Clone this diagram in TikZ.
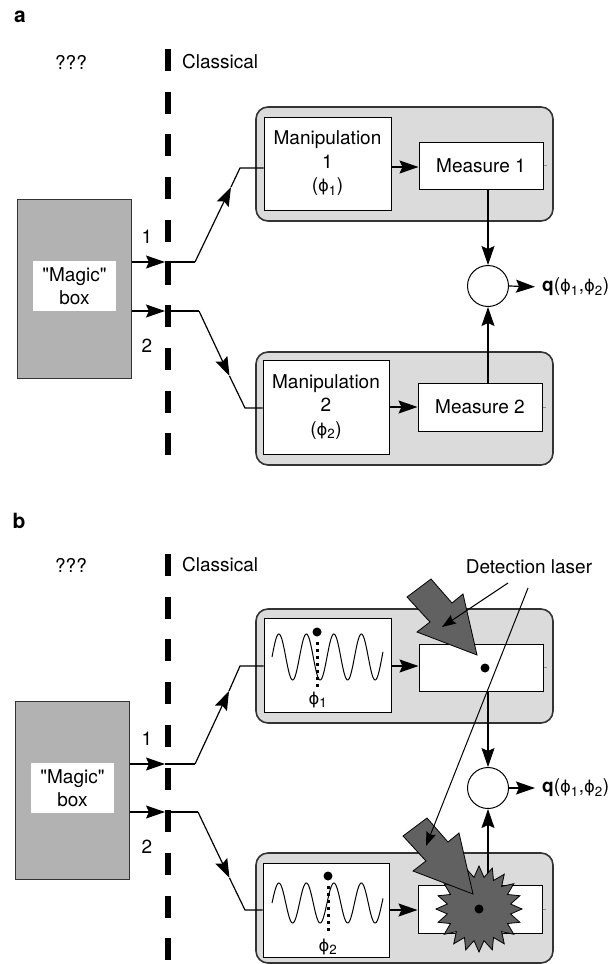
\documentclass[tikz,border=0pt]{standalone}
\usepackage{fontspec}
\newfontfamily\heros{TeX Gyre Heros}
\newfontfamily\phifont{DejaVu Sans}[Scale=0.86]
\newcommand\myphi{{\phifont ϕ}}
\usetikzlibrary{arrows.meta}
\begin{document}
\begin{tikzpicture}[x=1pt,y=-1pt,
  every node/.style={font=\heros\fontsize{19}{23.5}\selectfont, inner sep=0pt},
  conn/.style={line width=1.2pt, draw=black},
  arr/.style={-{Stealth[length=19pt,width=13pt,inset=3pt]}},
  sarr/.style={-{Stealth[length=14pt,width=10pt,inset=2pt]}},
  unitbox/.style={draw=black!80, line width=1.6pt, fill=black!14, rounded corners=12pt},
  wbox/.style={draw=black, line width=1pt, fill=white, align=center},
  magicbox/.style={draw=black!80, line width=1pt, fill=black!30},
  magiclabel/.style={fill=white, align=center, minimum width=83pt, minimum height=50pt},
  divider/.style={line width=6.7pt, dash pattern=on 22pt off 20.7pt},
  beam/.style={draw=black, line width=0.8pt, fill=black!62, line join=miter},
  dotline/.style={line width=3pt, dash pattern=on 3pt off 4pt},
  wave/.style={line width=1pt},
  stub/.style={line width=0.8pt, draw=black!45},
  thinarrow/.style={line width=1pt, draw=black},
  panel/.style={font=\heros\fontsize{21}{24}\selectfont\bfseries},
  summer/.style={circle, draw=black, line width=1pt, fill=white, minimum size=41pt}
]
\useasboundingbox (0,0) rectangle (613,964);

% ================= Panel a =================
\node[panel] (laba) at (20,17) {a};
\node (qqa) at (71,62) {???};
\node[anchor=west] (cla) at (182,62) {Classical};
\draw[divider] (168,49) -- (168,456);

\node[unitbox, minimum width=297pt, minimum height=114pt] (ua1) at (404.5,164) {};
\node[unitbox, minimum width=297pt, minimum height=113pt] (ua2) at (404.5,408.5) {};
\node[wbox, minimum width=127pt, minimum height=93pt] (mana1) at (327.5,163.5) {Manipulation\\1\\(\myphi\textsubscript{1})};
\node[wbox, minimum width=124pt, minimum height=47pt] (mesa1) at (481,165.5) {Measure 1};
\node[wbox, minimum width=126pt, minimum height=94pt] (mana2) at (326,407) {Manipulation\\2\\(\myphi\textsubscript{2})};
\node[wbox, minimum width=124pt, minimum height=48pt] (mesa2) at (480,407) {Measure 2};
\draw[stub] (mesa1.east) -- ++(3,0);
\draw[stub] (mesa2.east) -- ++(3,0);
\node[summer] (ca) at (488,286) {};
\node[anchor=west] (qa) at (542,287) {\textbf{q}(\myphi\textsubscript{1},\myphi\textsubscript{2})};

\node[magicbox, minimum width=114pt, minimum height=179pt] (mba) at (74,288.5) {};
\node[magiclabel] (mla) at (74.5,286) {"Magic"\\box};
\node (n1a) at (147,237) {1};
\node (n2a) at (147,346) {2};

\coordinate (a1x) at (165,262);
\coordinate (a1b) at (195,262);
\coordinate (a1m) at (231,187);
\coordinate (a1c) at (240,168);
\coordinate (a2x) at (165,311);
\coordinate (a2b) at (199,311);
\coordinate (a2m) at (229.5,376);
\coordinate (a2c) at (245,408);

\draw[conn,arr] (mba.east |- a1x) -- (a1x);
\draw[conn] (a1x) -- (a1b);
\draw[conn,arr] (a1b) -- (a1m);
\draw[conn] (a1m) -- (a1c) -- (mana1.west |- a1c);
\draw[conn,arr] (mba.east |- a2x) -- (a2x);
\draw[conn] (a2x) -- (a2b);
\draw[conn,arr] (a2b) -- (a2m);
\draw[conn] (a2m) -- (a2c) -- (mana2.west |- a2c);

\draw[conn,arr] (mana1.east |- 0,167) -- (mesa1.west |- 0,167);
\draw[conn,arr] (mana2.east |- 0,407) -- (mesa2.west |- 0,407);
\draw[conn,arr] (ca |- mesa1.south) -- (ca.north);
\draw[conn,arr] (ca |- mesa2.north) -- (ca.south);
\draw[conn,arr,shorten >=7pt] (ca.east) -- (qa.west);

% ================= Panel b =================
\node[panel] (labb) at (19,521) {b};
\node (qqb) at (71,565) {???};
\node[anchor=west] (clb) at (182,565) {Classical};
\draw[divider] (168,554) -- (168,960);

\node[unitbox, minimum width=297pt, minimum height=114pt] (ub1) at (404.5,666) {};
\node[unitbox, minimum width=297pt, minimum height=110pt] (ub2) at (404.5,908) {};
\node[wbox, minimum width=127pt, minimum height=94pt] (manb1) at (327.5,665) {};
\node[wbox, minimum width=124pt, minimum height=47pt] (mesb1) at (481,667.5) {};
\node[wbox, minimum width=126pt, minimum height=94pt] (manb2) at (326,910) {};
\node[wbox, minimum width=124pt, minimum height=48pt] (mesb2) at (480,909) {};
\draw[stub] (mesb1.east) -- ++(3,0);
\draw[stub] (mesb2.east) -- ++(3,0);
\node[summer] (cb) at (488,788) {};
\node[anchor=west] (qb) at (542,788) {\textbf{q}(\myphi\textsubscript{1},\myphi\textsubscript{2})};

% waves
\draw[wave] plot[domain=0:111, samples=150, smooth, variable=\t] ({272+\t},{657-23*sin(\t*13.0909)});
\fill (317,632) circle[radius=4.5pt];
\draw[dotline] (317,642) -- (317,689);
\node (phb1) at (318,700) {\myphi\textsubscript{1}};
\draw[wave] plot[domain=0:111, samples=150, smooth, variable=\t] ({272+\t},{903-20*sin(\t*13.0909)});
\fill (328,876) circle[radius=4.5pt];
\draw[dotline] (328,886) -- (328,931);
\node (phb2) at (328,947) {\myphi\textsubscript{2}};
\fill (485,668) circle[radius=4.5pt];

\node[magicbox, minimum width=114pt, minimum height=178pt] (mbb) at (72,790) {};
\node[magiclabel] (mlb) at (72.5,788) {"Magic"\\box};
\node (n1b) at (147,739) {1};
\node (n2b) at (147,847) {2};

\coordinate (b1x) at (165,764);
\coordinate (b1b) at (195,764);
\coordinate (b1m) at (229,691);
\coordinate (b1c) at (240,666);
\coordinate (b2x) at (165,812);
\coordinate (b2b) at (198,812);
\coordinate (b2m) at (229.5,878);
\coordinate (b2c) at (245,910);

\draw[conn,arr] (mbb.east |- b1x) -- (b1x);
\draw[conn] (b1x) -- (b1b);
\draw[conn,arr] (b1b) -- (b1m);
\draw[conn] (b1m) -- (b1c) -- (manb1.west |- b1c);
\draw[conn,arr] (mbb.east |- b2x) -- (b2x);
\draw[conn] (b2x) -- (b2b);
\draw[conn,arr] (b2b) -- (b2m);
\draw[conn] (b2m) -- (b2c) -- (manb2.west |- b2c);

\draw[conn,arr] (manb1.east |- 0,666) -- (mesb1.west |- 0,666);
\draw[conn,arr] (manb2.east |- 0,910) -- (mesb2.west |- 0,910);
\draw[conn,arr] (cb |- mesb1.south) -- (cb.north);
\draw[conn,arr] (cb |- mesb2.north) -- (cb.south);
\draw[conn,arr,shorten >=7pt] (cb.east) -- (qb.west);

% starburst
\draw[beam] plot[samples=41, domain=0:40, variable=\i]
   ({479+(37.5+5.5*cos(\i*180))*cos(\i*9)},{909+(37.5+5.5*cos(\i*180))*sin(\i*9)}) -- cycle;

% big laser arrows
\draw[beam] (407,597) -- (430,622) -- (417,632) -- (477,655) -- (463,594) -- (452,603) -- (431,579) -- cycle;
\draw[beam] (403,836) -- (426,861) -- (413,871) -- (473,894) -- (459,833) -- (448,842) -- (427,818) -- cycle;
\fill (479,909) circle[radius=4.5pt];

% detection laser label and pointers
\node (dl) at (529,567) {Detection laser};
\coordinate (dl1) at (508,583);
\coordinate (dl2) at (528,588);
\coordinate (t1) at (442,627);
\coordinate (t2) at (426,846);
\draw[thinarrow,sarr] (dl1) -- (t1);
\draw[thinarrow,sarr] (dl2) -- (t2);
\end{tikzpicture}
\end{document}
